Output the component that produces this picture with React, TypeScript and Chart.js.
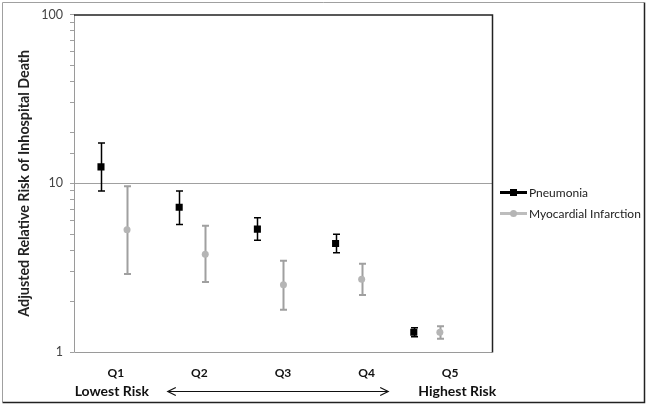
import React, { useEffect, useRef } from "react";
import { Chart, registerables } from "chart.js";

Chart.register(...registerables);

const quintiles = ["Q1", "Q2", "Q3", "Q4", "Q5"];
const riskEnds = ["Lowest Risk", "Highest Risk"];
const seriesNames = ["Pneumonia", "Myocardial Infarction"];

const pneumoniaRR = [12.5, 7.2, 5.35, 4.4, 1.31];
const pneumoniaLow = [9.0, 5.7, 4.6, 3.88, 1.23];
const pneumoniaHigh = [17.3, 9.0, 6.25, 4.98, 1.39];

const miRR = [5.3, 3.8, 2.5, 2.7, 1.31];
const miLow = [2.9, 2.6, 1.78, 2.18, 1.2];
const miHigh = [9.6, 5.6, 3.47, 3.33, 1.42];

const yTickLabels = [1, 10, 100];
const FONT = "Lato, 'Liberation Sans', sans-serif";

const errorBars = [
  { low: pneumoniaLow, high: pneumoniaHigh, color: "#000000", width: 1.5 },
  { low: miLow, high: miHigh, color: "#a0a0a0", width: 2 },
];

const decorPlugin = {
  id: "decor",
  beforeDatasetsDraw(chart: any) {
    const { ctx, chartArea: a } = chart;
    const ys = chart.scales.y;
    ctx.save();
    // plot area border
    ctx.lineWidth = 1;
    ctx.strokeStyle = "#9a9a9a";
    ctx.beginPath();
    ctx.moveTo(a.left + 0.5, a.top);
    ctx.lineTo(a.left + 0.5, a.bottom + 0.5);
    ctx.lineTo(a.right, a.bottom + 0.5);
    ctx.stroke();
    ctx.strokeStyle = "#222222";
    ctx.lineWidth = 1.5;
    ctx.beginPath();
    ctx.moveTo(a.left, a.top + 0.5);
    ctx.lineTo(a.right + 0.5, a.top + 0.5);
    ctx.lineTo(a.right + 0.5, a.bottom + 0.5);
    ctx.stroke();
    // error bars
    errorBars.forEach((eb, di) => {
      const meta = chart.getDatasetMeta(di);
      ctx.strokeStyle = eb.color;
      ctx.lineWidth = eb.width;
      meta.data.forEach((pt: any, i: number) => {
        const px = Math.round(pt.x) + 0.5;
        const yl = ys.getPixelForValue(eb.low[i]);
        const yh = ys.getPixelForValue(eb.high[i]);
        ctx.beginPath();
        ctx.moveTo(px, yl);
        ctx.lineTo(px, yh);
        ctx.moveTo(px - 3.5, yl);
        ctx.lineTo(px + 3.5, yl);
        ctx.moveTo(px - 3.5, yh);
        ctx.lineTo(px + 3.5, yh);
        ctx.stroke();
      });
    });
    ctx.restore();
  },
  afterDraw(chart: any) {
    const { ctx, chartArea: a, width, height } = chart;
    const xq = chart.scales.xq;
    ctx.save();
    // outer border
    ctx.lineWidth = 1;
    ctx.strokeStyle = "#a0a0a0";
    ctx.beginPath();
    ctx.moveTo(2.5, height - 3);
    ctx.lineTo(2.5, 2.5);
    ctx.lineTo(width - 3, 2.5);
    ctx.stroke();
    ctx.strokeStyle = "#222222";
    ctx.lineWidth = 1.5;
    ctx.beginPath();
    ctx.moveTo(width - 2.5, 2.5);
    ctx.lineTo(width - 2.5, height - 2.5);
    ctx.lineTo(2.5, height - 2.5);
    ctx.stroke();

    // risk labels
    const yRow = a.bottom + 39;
    ctx.fillStyle = "#111111";
    ctx.font = `bold 14px ${FONT}`;
    ctx.textAlign = "center";
    ctx.textBaseline = "middle";
    const x0 = xq.getPixelForValue(0);
    const x4 = xq.getPixelForValue(4);
    ctx.fillText(riskEnds[0], x0 - 4, yRow);
    ctx.fillText(riskEnds[1], x4 + 7, yRow);
    // double arrow
    const ax0 = x0 + 52;
    const ax1 = x4 - 62;
    const ay = yRow + 0.5;
    ctx.strokeStyle = "#111111";
    ctx.lineWidth = 1.2;
    ctx.beginPath();
    ctx.moveTo(ax0, ay);
    ctx.lineTo(ax1, ay);
    ctx.moveTo(ax0 + 8, ay - 4);
    ctx.lineTo(ax0, ay);
    ctx.lineTo(ax0 + 8, ay + 4);
    ctx.moveTo(ax1 - 8, ay - 4);
    ctx.lineTo(ax1, ay);
    ctx.lineTo(ax1 - 8, ay + 4);
    ctx.stroke();

    // legend
    const lx = a.right + 8;
    const ly = [a.top + 178, a.top + 199];
    const styles = [
      { line: "#000000", fill: "#000000", shape: "rect" },
      { line: "#bdbdbd", fill: "#b5b5b5", shape: "circle" },
    ];
    ctx.font = `12px ${FONT}`;
    ctx.textAlign = "left";
    styles.forEach((s, i) => {
      const y = ly[i];
      ctx.strokeStyle = s.line;
      ctx.lineWidth = 3;
      ctx.beginPath();
      ctx.moveTo(lx, y);
      ctx.lineTo(lx + 27, y);
      ctx.stroke();
      ctx.fillStyle = s.fill;
      if (s.shape === "rect") {
        ctx.fillRect(lx + 10, y - 3.5, 7, 7);
      } else {
        ctx.beginPath();
        ctx.arc(lx + 13.5, y, 3.5, 0, Math.PI * 2);
        ctx.fill();
      }
      ctx.fillStyle = "#222222";
      ctx.fillText(seriesNames[i], lx + 29, y + 1);
    });
    ctx.restore();
  },
};

export default function App() {
  const ref = useRef<HTMLCanvasElement>(null);
  useEffect(() => {
    document.body.style.margin = "0";
    const canvas = ref.current!;
    const chart = new Chart(canvas, {
      type: "scatter",
      data: {
        datasets: [
          {
            label: seriesNames[0],
            data: pneumoniaRR.map((v, i) => ({ x: i + 1, y: v })),
            pointStyle: "rect",
            pointRadius: 5,
            backgroundColor: "#000000",
            borderColor: "#000000",
            borderWidth: 0,
            showLine: false,
          },
          {
            label: seriesNames[1],
            data: miRR.map((v, i) => ({ x: i + 1 + 1 / 3, y: v })),
            pointStyle: "circle",
            pointRadius: 3.5,
            backgroundColor: "#b5b5b5",
            borderColor: "#b5b5b5",
            borderWidth: 0,
            showLine: false,
          },
        ],
      },
      options: {
        responsive: false,
        animation: false,
        layout: { padding: { left: 0, top: 14, right: 155, bottom: 0 } },
        plugins: { legend: { display: false }, tooltip: { enabled: false } },
        scales: {
          x: { type: "linear", min: 0.655, max: 6, display: false },
          xq: {
            type: "category",
            labels: quintiles,
            position: "bottom",
            offset: true,
            grid: { display: false, drawTicks: false },
            border: { display: false },
            ticks: {
              font: { family: FONT, size: 12, weight: "bold" },
              color: "#111111",
              padding: 14,
              maxRotation: 0,
              autoSkip: false,
            },
            afterFit: (s: any) => {
              s.height = 53;
            },
          },
          y: {
            type: "logarithmic",
            min: 1,
            max: 100,
            border: { display: false },
            grid: {
              color: (c: any) => (c.tick && c.tick.value === 10 ? "#a0a0a0" : "rgba(0,0,0,0)"),
              tickColor: "#a0a0a0",
              tickLength: 4,
              lineWidth: 1,
            },
            ticks: {
              autoSkip: false,
              font: { family: FONT, size: 12.5 },
              color: "#444444",
              padding: 7,
              callback: (v: any) => (yTickLabels.includes(Number(v)) ? String(v) : ""),
            },
            title: {
              display: true,
              text: "Adjusted Relative Risk of Inhospital Death",
              font: { family: FONT, size: 14.3, weight: "bold" },
              color: "#222222",
              padding: { top: 16, bottom: 0 },
            },
            afterFit: (s: any) => {
              s.width = 74;
            },
          },
        },
      },
      plugins: [decorPlugin],
    } as any);
    return () => chart.destroy();
  }, []);
  return <canvas ref={ref} width={647} height={405} />;
}
